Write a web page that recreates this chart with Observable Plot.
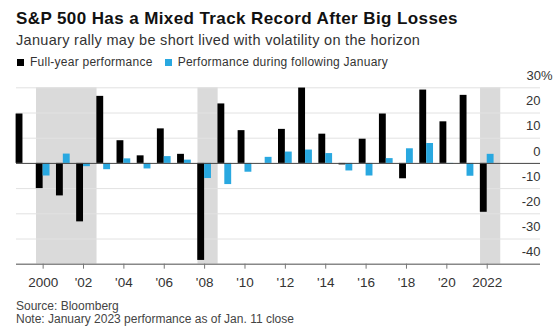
<!DOCTYPE html>
<html><head><meta charset="utf-8">
<script src="https://cdn.jsdelivr.net/npm/d3@7"></script>
<script src="https://cdn.jsdelivr.net/npm/@observablehq/plot@0.6"></script>
<style>
body{margin:0;background:#fff;font-family:"Liberation Sans",Arial,sans-serif;}
#wrap{position:relative;width:560px;height:333px;overflow:hidden;background:#fff}
.t{position:absolute;left:16px;white-space:nowrap}
#title{top:9.5px;font-size:17px;line-height:17px;font-weight:bold;color:#111;letter-spacing:0.4px}
#sub{top:33px;font-size:14.5px;line-height:14.5px;color:#333;letter-spacing:0.3px}
#legend{left:17px;top:55.7px;font-size:12px;line-height:12px;color:#333;letter-spacing:0.25px}
.sw{display:inline-block;width:7px;height:7px;margin-right:6px}
#chart{position:absolute;left:0;top:70px}
#chart svg{overflow:visible}
#src{top:300px;font-size:12px;line-height:12px;color:#444}
#note{top:312.7px;font-size:12px;line-height:12px;color:#444}
</style></head>
<body>
<div id="wrap">
  <div class="t" id="title">S&amp;P 500 Has a Mixed Track Record After Big Losses</div>
  <div class="t" id="sub">January rally may be short lived with volatility on the horizon</div>
  <div class="t" id="legend"><span class="sw" style="background:#000"></span>Full-year performance<span style="display:inline-block;width:12px"></span><span class="sw" style="background:#29a8e0"></span>Performance during following January</div>
  <div id="chart"></div>
  <div class="t" id="src">Source: Bloomberg</div>
  <div class="t" id="note">Note: January 2023 performance as of Jan. 11 close</div>
</div>
<script>
const years = [1999,2000,2001,2002,2003,2004,2005,2006,2007,2008,2009,2010,2011,2012,2013,2014,2015,2016,2017,2018,2019,2020,2021,2022];
const fullYear = [19.6,-10.0,-12.9,-23.2,26.6,9.0,3.0,13.7,3.6,-38.5,23.6,13.0,0.0,13.5,29.9,11.6,-0.6,9.6,19.6,-6.1,29.1,16.5,27.0,-19.4];
const january = [null,-5.0,3.7,-1.3,-2.5,1.8,-2.2,2.7,1.3,-6.0,-8.4,-3.5,2.4,4.5,5.3,3.9,-3.0,-5.0,1.9,5.8,7.9,-0.2,-5.1,3.6];
const shadeStart = [2000,2008,2022];
const shadeEnd = [2003,2009,2023];
const yTicks = [30,20,10,0,-10,-20,-30,-40];
const xTicks = [2000,2002,2004,2006,2008,2010,2012,2014,2016,2018,2020,2022];
const xLabels = ["2000","'02","'04","'06","'08","'10","'12","'14","'16","'18","'20","2022"];

const rows = years.map((y,i)=>({year:y, full:fullYear[i], jan:january[i]}));
const shades = shadeStart.map((s,i)=>({start:s, end:shadeEnd[i]}));
const bw = 0.34;
const font = '"Liberation Sans",Arial,sans-serif';

const chart = Plot.plot({
  width:560, height:225,
  marginLeft:16, marginRight:20, marginTop:17.3, marginBottom:31.3,
  x:{domain:[1998.68, 2024.64]},
  y:{domain:[-40,30]},
  style:{fontFamily:font, fontSize:"13.5px", color:"#333", background:"transparent", overflow:"visible"},
  marks:[
    Plot.rect(shades, {x1:d=>d.start-0.33, x2:d=>d.end-0.33, y1:-40, y2:30, fill:"#dadada"}),
    Plot.ruleY(yTicks.filter(d=>d!==0 && d!==-40), {stroke:"#e2e2e2", strokeWidth:1}),
    Plot.rectY(rows, {x1:d=>d.year-bw, x2:d=>d.year, y:"full", fill:"#000"}),
    Plot.rectY(rows.filter(d=>d.jan!=null), {x1:d=>d.year, x2:d=>d.year+bw, y:"jan", fill:"#29a8e0"}),
    Plot.ruleY([0], {stroke:"#444", strokeWidth:1}),
    Plot.ruleY([-40], {stroke:"#888", strokeWidth:1.5}),
    Plot.axisX({ticks:xTicks, tickFormat:d=>xLabels[xTicks.indexOf(d)], tickSize:5, tickPadding:8.5, stroke:"#777", fill:"#333"}),
    Plot.axisY({anchor:"right", ticks:yTicks.filter(d=>d!==30), tickFormat:d=>String(d), tickSize:0, tickPadding:0, textAnchor:"end", dy:-12, fill:"#333", fontSize:13}),
    Plot.axisY({anchor:"right", ticks:[30], tickFormat:d=>d+"%", tickSize:0, tickPadding:0, textAnchor:"end", dx:12, dy:-12, fill:"#333", fontSize:13})
  ]
});
document.getElementById("chart").appendChild(chart);
</script>
</body></html>
